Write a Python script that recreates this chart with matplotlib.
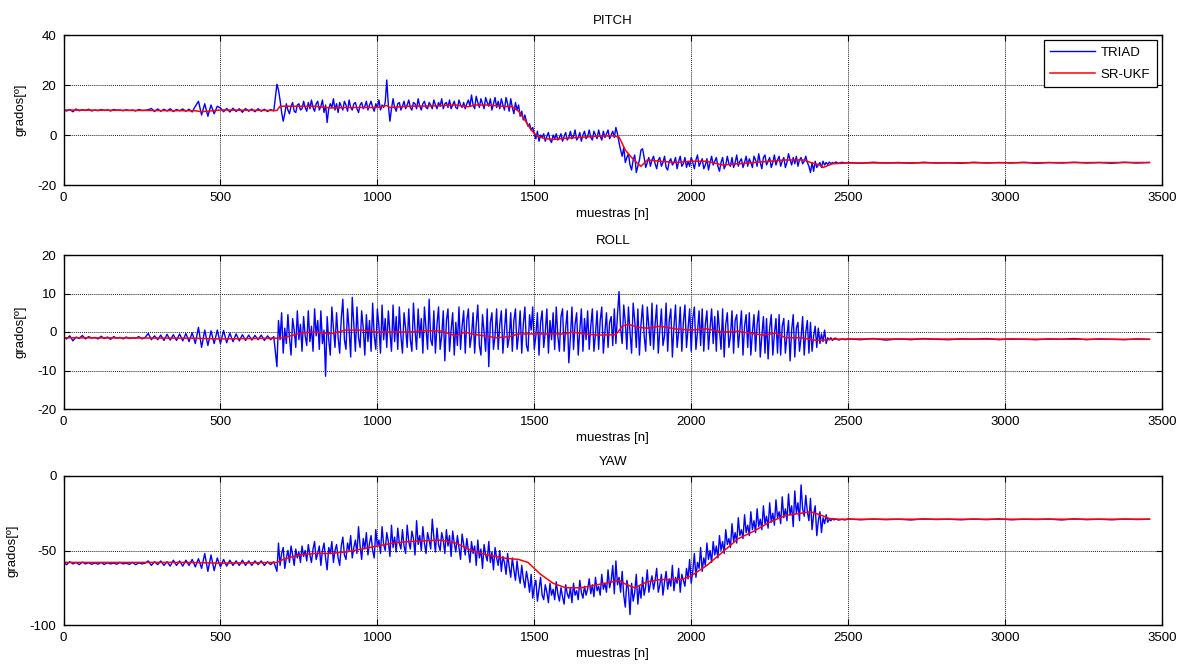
import numpy as np
import matplotlib
matplotlib.use("Agg")
import matplotlib.pyplot as plt

plt.rcParams['font.family'] = ['Liberation Sans', 'DejaVu Sans']
plt.rcParams['axes.unicode_minus'] = False

# ---------------- data ----------------
# TRIAD sample indices: 10-sample steps while quiet, 5-sample steps in the noisy part
triad_n = (list(range(0, 680, 10)) + list(range(680, 2460, 5))
           + list(range(2460, 2500, 10)) + list(range(2500, 3461, 40)))

pitch_triad = [
    # 0 - 670
    10, 9.6, 10.2, 9.3, 10.4, 9.7, 10.1, 9.8, 10.3, 9.6,
    10.0, 9.7, 10.2, 9.8, 10.1, 9.6, 10.2, 9.9, 10.0, 9.7,
    10.1, 9.8, 10.0, 9.6, 10.2, 9.8, 9.9, 10.1, 10.6, 9.4,
    10.4, 9.5, 10.3, 9.6, 10.5, 9.4, 10.2, 9.7, 10.4, 9.5,
    10.3, 9.2, 11.5, 13.5, 8.0, 12.5, 7.5, 12.0, 8.5, 11.5,
    10.8, 9.3, 10.6, 9.2, 10.7, 9.4, 10.5, 9.1, 10.6, 9.5,
    10.4, 9.3, 10.5, 9.5, 10.3, 9.4, 10.2, 9.6,
    # 680 - 2455 (step 5)
    20.3, 18.0, 14.0, 9.0, 5.5, 8.5, 12.5, 10.0, 8.5, 11.5, 13.0, 9.5, 9.0, 12.0, 12.5, 10.0, 10.5, 13.5, 11.0, 9.5,
    13.0, 10.5, 14.0, 11.0, 9.5, 12.5, 13.5, 10.0, 11.5, 14.0, 9.0, 12.0, 5.0, 10.5, 12.5, 11.0, 14.5, 10.0, 12.5, 9.0,
    13.0, 11.5, 10.0, 13.5, 12.0, 9.5, 14.0, 11.0, 10.0, 12.5, 13.0, 10.5, 9.0, 12.0, 13.0, 10.5, 11.5, 13.5, 10.0, 12.0,
    13.5, 11.0, 9.5, 12.5, 11.0, 14.0, 10.0, 12.0, 11.0, 13.0, 22.0, 12.0, 5.5, 10.5, 14.5, 11.0, 9.5, 12.5, 13.0, 10.0,
    11.5, 13.5, 10.5, 12.0, 14.0, 11.0, 10.0, 13.0, 12.5, 10.5, 14.5, 11.5, 10.0, 12.5, 13.5, 11.0, 10.5, 13.0, 12.0, 10.5,
    14.0, 12.0, 10.5, 13.0, 11.5, 14.5, 10.5, 12.5, 13.0, 11.0, 14.0, 10.5, 12.0, 13.5, 11.0, 10.5, 14.0, 12.0, 11.0, 13.0,
    10.5, 12.5, 14.0, 11.5, 16.0, 12.0, 10.5, 15.5, 13.0, 11.0, 14.5, 12.5, 10.5, 15.0, 13.0, 11.5, 14.5, 10.0, 12.5, 15.0,
    11.0, 13.5, 10.5, 14.5, 12.0, 10.0, 15.0, 12.5, 9.5, 14.5, 11.0, 8.5, 13.0, 10.0, 12.0, 7.5, 9.5, 6.0, 8.0, 5.5,
    3.5, 4.5, 2.0, 3.0, 0.5, -1.5, 1.5, -2.5, 0.0, -1.0, 0.5, -2.5, -0.5, 1.0, -2.0, -3.0, 0.0, -1.5, 0.5, -2.0,
    -1.0, 0.5, -2.5, -0.5, 1.0, -2.0, -1.0, 1.5, -1.5, -0.5, 2.0, -2.0, -1.0, 1.0, -2.5, 0.0, 1.5, -1.5, -0.5, 2.0,
    -1.0, -2.0, 1.5, 0.0, -1.5, 2.0, -0.5, -2.0, 1.5, -1.0, 0.5, 2.0, -1.5, 0.0, 1.5, -1.0, 3.0, 0.5, -3.0, -6.0,
    -8.5, -5.0, -11.0, -9.0, -7.5, -12.0, -14.0, -10.0, -8.0, -15.0, -12.5, -10.0, -6.0, -5.5, -9.0, -13.0, -11.0, -9.0, -12.5, -10.0,
    -8.5, -11.5, -13.5, -10.0, -9.0, -12.5, -11.0, -8.5, -13.0, -14.0, -10.5, -9.5, -12.0, -11.0, -9.0, -13.5, -10.5, -8.5, -12.5, -11.5,
    -9.0, -13.0, -10.5, -12.5, -9.0, -11.0, -13.5, -10.0, -8.0, -12.5, -11.0, -9.5, -13.5, -12.0, -9.5, -14.0, -11.0, -8.5, -12.0, -10.5,
    -9.0, -12.5, -14.5, -11.0, -9.0, -13.5, -12.0, -8.5, -11.5, -12.5, -9.0, -13.0, -11.0, -8.0, -12.5, -10.5, -9.5, -13.0, -11.0, -8.5,
    -12.5, -9.5, -11.0, -13.0, -8.5, -10.0, -12.5, -7.5, -11.0, -13.5, -9.0, -8.0, -12.0, -10.5, -9.0, -13.0, -11.0, -8.0, -12.0, -10.0,
    -8.5, -12.5, -10.5, -9.0, -13.0, -11.0, -7.5, -10.0, -12.0, -9.0, -11.5, -8.5, -12.5, -10.0, -9.0, -11.5, -10.5, -8.5, -11.0, -12.5,
    -15.0, -11.0, -14.5, -10.5, -13.0, -12.0, -11.0, -13.0, -10.5, -12.0, -11.0, -11.8, -10.8, -11.5, -11.0, -11.4,
    # 2460 - 2490
    -10.8, -11.3, -10.9, -11.2,
    # 2500 - 3460 (step 40)
    -11.0, -11.3, -10.9, -11.2, -11.0, -11.3, -10.9, -11.2, -11.1, -11.3,
    -10.9, -11.2, -11.0, -11.2, -10.9, -11.3, -11.0, -11.2, -10.9, -11.2,
    -11.0, -11.3, -10.9, -11.2, -11.0,
]

roll_triad = [
    # 0 - 670
    -1.2, -1.8, -1.0, -2.3, -1.3, -1.7, -0.9, -1.8, -1.2, -1.6,
    -1.4, -1.8, -1.1, -1.7, -1.3, -1.9, -1.2, -1.6, -1.4, -1.8,
    -1.3, -1.7, -1.5, -1.6, -1.2, -1.8, -1.4, -0.4, -2.0, -1.0,
    -2.0, -0.8, -2.2, -0.6, -2.1, -0.7, -2.2, -0.5, -2.3, -0.4,
    -2.5, -0.2, -3.0, 1.2, -4.0, 0.5, -3.5, 0.3, -3.0, 0.5,
    -3.0, 0.4, -2.8, -0.3, -2.5, -0.5, -2.3, -0.7, -2.2, -0.8,
    -2.1, -0.9, -2.0, -0.8, -2.2, -1.0, -2.0, -1.2,
    # 680 - 2455 (step 5)
    -9.0, 3.0, -2.0, 5.0, -5.5, 1.0, -3.0, 4.5, -1.5, -6.0, 3.5, 0.5, -4.0, 5.5, -2.0, 2.0, -5.0, 4.0, -1.0, -3.5,
    5.5, -2.5, 1.5, -5.0, 6.0, -1.0, 3.0, -4.5, 5.5, -3.0, 0.5, -11.5, 4.0, -2.0, -6.0, 6.5, 1.0, -4.0, 5.0, -1.5,
    -5.5, 3.5, 8.5, -2.0, -4.5, 6.0, 0.5, -6.5, 9.0, 2.0, -5.0, 6.5, -1.5, -4.0, 5.5, 1.0, -6.0, 4.5, -2.5, 3.0,
    -5.0, 7.5, -1.0, -4.5, 6.0, 1.5, -5.5, 7.0, -2.0, 3.5, -4.0, 5.5, 0.0, -5.0, 7.0, -2.5, 4.0, -4.5, 6.5, -1.0,
    -5.5, 5.0, 1.0, -4.0, 6.0, -2.0, -5.0, 7.5, 0.5, -4.5, 6.0, -1.5, 3.5, -5.5, 6.5, 1.0, -4.5, 8.5, -2.0, -3.5,
    5.5, -5.5, 2.0, 6.5, -4.5, -1.0, 5.5, -7.5, 3.0, 6.0, -5.0, 0.5, 5.0, -6.0, 2.5, -3.5, 6.5, -4.5, 1.5, 5.5,
    -5.5, 3.0, 6.0, -4.0, -1.0, 5.0, -5.5, 2.0, 7.0, -3.5, -6.0, 4.5, 0.0, -5.0, 6.0, -9.0, 2.5, 5.0, -4.5, -1.0,
    6.0, -4.5, 2.0, 5.5, -5.5, 0.5, 6.0, -4.0, -1.5, 5.0, -5.0, 3.0, 6.0, -4.5, -0.5, 5.5, -5.5, 2.0, 6.5, -3.5,
    -5.0, 4.5, 0.5, 6.5, -4.5, -1.0, 5.0, -6.0, 2.5, 5.5, -4.0, 0.0, 6.0, -5.5, 3.0, -2.0, 5.0, -4.5, 6.5, -1.0,
    -5.0, 4.0, 6.0, -5.0, 1.0, 5.5, -8.0, -1.5, 6.5, -4.5, 2.0, 5.0, -6.0, 0.5, 6.0, -5.0, 3.5, -2.0, 5.5, -4.5,
    1.5, 6.0, -5.0, -0.5, 5.5, -4.5, 3.0, 6.5, -5.5, 0.0, 5.0, -4.0, 2.5, 4.0, -3.5, 6.0, -3.0, 4.5, 10.5, 1.0,
    -3.0, 7.0, 2.5, -4.5, 6.5, 0.0, -5.5, 7.5, 3.0, -4.0, 6.0, -6.0, 2.0, 7.0, -1.0, -5.0, 6.5, 1.5, -3.5, 7.5,
    -4.5, 2.0, 7.0, -5.5, 0.5, 6.0, -3.5, -1.0, 7.5, -5.0, 3.0, 6.0, -6.5, 1.5, 7.0, -4.0, 0.0, 6.5, -5.0, 2.5,
    7.0, -4.0, 1.0, 6.0, -5.0, 3.5, 6.5, -4.5, 0.0, 5.5, -3.5, 6.0, -5.0, 2.0, 5.5, -4.5, 1.0, 6.0, -3.0, 4.0,
    -5.0, 5.5, 0.5, -4.5, 6.0, -6.5, 2.0, 5.0, -4.0, -1.0, 5.5, -5.5, 3.0, 4.5, -4.0, 0.5, 5.5, -6.0, 1.5, 4.5,
    -4.0, 5.0, -6.0, 0.0, 4.5, -5.0, 2.0, 5.5, -6.5, -1.0, 4.0, -5.5, 3.5, -7.0, 1.0, 4.5, -6.0, -0.5, 3.5, -5.5,
    4.5, -6.0, 1.5, 3.5, -5.5, -1.0, 3.0, -7.5, 0.5, 4.5, -6.5, 1.0, 2.5, -5.0, -1.5, 4.0, -6.0, 0.0, 3.0, -5.5,
    2.5, -5.0, -1.0, 1.5, -4.0, 1.0, -3.0, -0.5, -2.5, 0.5, -3.0, -1.5, -2.0, -1.5, -2.2, -1.7,
    # 2460 - 2490
    -1.6, -2.1, -1.8, -2.0,
    # 2500 - 3460 (step 40)
    -1.8, -2.0, -1.7, -2.1, -1.8, -2.0, -1.7, -1.9, -2.0, -1.8,
    -1.9, -1.7, -2.0, -1.8, -1.9, -2.0, -1.8, -1.9, -1.7, -2.0,
    -1.8, -1.9, -2.0, -1.8, -1.9,
]

yaw_triad = [
    # 0 - 670
    -58, -59.5, -57.5, -59, -58, -59.5, -57.8, -59, -58.2, -59.3,
    -58.3, -59.2, -58, -59.4, -58.2, -59, -58.5, -59.2, -58, -59,
    -58.5, -59.3, -58, -59.5, -58.3, -59, -58.5, -57, -60, -57.5,
    -59.5, -57, -60, -57.5, -60.5, -56.5, -60, -57, -60.5, -56.5,
    -60, -56, -61, -55.5, -62, -52, -64, -53, -63.5, -55,
    -61, -56, -60.5, -56.5, -60, -57, -60, -56.5, -60, -57,
    -60, -57, -59.5, -57, -60, -57.5, -59.5, -57.5,
    # 680 - 2455 (step 5)
    -64, -45, -60, -52, -48, -62, -55, -50, -58, -47, -53, -60, -49, -55, -51, -58, -47, -54, -50, -57,
    -46, -53, -58, -49, -44, -56, -52, -47, -60, -50, -45, -55, -63, -48, -52, -44, -58, -50, -46, -55,
    -60, -47, -41, -53, -56, -45, -50, -40, -55, -48, -43, -52, -34, -47, -56, -42, -49, -38, -53, -45,
    -40, -50, -55, -36, -47, -43, -52, -34, -46, -50, -38, -44, -54, -33, -48, -41, -51, -35, -45, -49,
    -36, -47, -52, -33, -44, -49, -37, -42, -53, -30, -46, -40, -50, -34, -45, -52, -38, -43, -49, -29,
    -41, -51, -35, -46, -50, -38, -43, -52, -36, -47, -40, -54, -37, -45, -51, -40, -48, -56, -39, -46,
    -53, -42, -50, -58, -44, -52, -47, -60, -43, -55, -49, -62, -46, -53, -57, -44, -58, -51, -63, -48,
    -55, -60, -50, -64, -54, -58, -66, -52, -61, -68, -55, -63, -70, -57, -66, -72, -60, -69, -75, -64,
    -70, -78, -66, -82, -74, -70, -84, -76, -68, -80, -83, -73, -78, -85, -72, -80, -76, -83, -71, -79,
    -84, -75, -81, -86, -73, -79, -82, -75, -85, -72, -80, -77, -83, -70, -78, -82, -74, -80, -76, -69,
    -79, -73, -81, -68, -77, -74, -80, -66, -76, -72, -78, -63, -75, -70, -60, -79, -57, -73, -68, -78,
    -64, -80, -88, -70, -76, -93, -72, -84, -78, -66, -86, -74, -82, -68, -80, -74, -63, -78, -72, -67,
    -76, -70, -62, -78, -73, -66, -80, -71, -64, -76, -69, -74, -60, -77, -68, -72, -62, -78, -66, -70,
    -74, -62, -69, -56, -72, -64, -52, -68, -58, -62, -48, -64, -55, -60, -45, -56, -50, -58, -44, -53,
    -47, -55, -40, -50, -44, -52, -36, -46, -42, -48, -32, -44, -38, -45, -28, -40, -36, -42, -26, -38,
    -33, -40, -24, -36, -30, -38, -22, -34, -29, -36, -20, -32, -27, -35, -18, -31, -25, -33, -16, -28,
    -24, -32, -14, -28, -22, -30, -12, -26, -20, -34, -10, -25, -18, -30, -6, -22, -27, -13, -24, -30,
    -15, -36, -26, -20, -40, -30, -24, -38, -28, -32, -26, -31, -29, -30.0, -28.5, -29.5,
    # 2460 - 2490
    -28.9, -29.6, -29.1, -29.5,
    # 2500 - 3460 (step 40)
    -28.8, -29.4, -28.9, -29.3, -29.0, -29.5, -28.8, -29.2, -29.0, -29.4,
    -28.9, -29.3, -28.8, -29.4, -29.0, -29.2, -28.9, -29.5, -28.8, -29.3,
    -29.0, -29.4, -28.9, -29.2, -29.0,
]

# SR-UKF estimate (smooth), given at key sample indices
pitch_ukf_n = [0, 420, 440, 500, 680, 690, 750, 800, 850, 900, 1000, 1030, 1040,
               1100, 1200, 1250, 1290, 1310, 1350, 1400, 1430, 1450, 1470, 1490,
               1510, 1530, 1560, 1600, 1700, 1750, 1770, 1790, 1810, 1830, 1840,
               1860, 1900, 1950, 2000, 2050, 2100, 2150, 2200, 2250, 2300, 2360,
               2380, 2410, 2420, 2450, 2500, 3460]
pitch_ukf = [10, 9.7, 9.3, 10, 9.8, 11.5, 11.5, 11.5, 10.8, 11, 11, 11.8, 11,
             11.5, 11.7, 12, 11.3, 12, 12, 11.5, 11.3, 9.5, 6, 2,
             -0.5, -1.3, -1.8, -1.3, -0.5, -0.3, -0.8, -6, -9, -11.5, -12.5,
             -10, -10.5, -11, -10.5, -10.5, -12, -11.5, -11, -10.5, -10, -10,
             -11, -12, -13, -11.5, -11.2, -11]

roll_ukf_n = [0, 400, 500, 680, 700, 760, 800, 850, 900, 950, 1000, 1100, 1150,
              1200, 1250, 1280, 1300, 1380, 1420, 1450, 1600, 1620, 1660, 1700,
              1760, 1780, 1800, 1830, 1860, 1900, 1950, 2000, 2050, 2100, 2150,
              2200, 2230, 2270, 2300, 2350, 2400, 2450, 2500, 3460]
roll_ukf = [-1.5, -1.6, -1.8, -1.6, -1.5, -0.2, 0, -0.5, 0.5, 0.5, 0, 0, 0.3,
            0.3, -1, 0, -0.5, -1.5, -1.2, -0.5, -0.5, 0, -0.5, -0.8,
            -0.7, 1.5, 2.0, 1.2, 1.0, 1.5, 0.8, 0.5, 0.8, 0.0, 0.2,
            -0.5, -0.8, -0.3, -1.5, -1.5, -2.2, -1.9, -1.8, -1.9]

yaw_ukf_n = [0, 400, 500, 680, 700, 750, 800, 850, 900, 950, 1000, 1050, 1100,
             1150, 1200, 1250, 1280, 1300, 1350, 1400, 1450, 1480, 1520, 1560,
             1600, 1650, 1700, 1750, 1770, 1790, 1820, 1860, 1900, 1970, 2000,
             2050, 2100, 2150, 2200, 2250, 2300, 2350, 2380, 2410, 2440, 2470,
             2500, 3460]
yaw_ukf = [-58, -58, -58.5, -58, -56, -53, -52, -52, -51, -49, -47, -45, -44,
           -43.5, -43, -45, -48, -50, -53, -55, -56, -58, -66, -72,
           -75, -75, -73, -71, -70, -72.5, -75, -71, -69.5, -69.5, -67,
           -60, -51, -42, -37, -31, -26.5, -25, -24, -26, -28.5, -29,
           -29, -29]

panels = [
    ("PITCH", pitch_triad, pitch_ukf_n, pitch_ukf, (-20, 40), [-20, 0, 20, 40]),
    ("ROLL", roll_triad, roll_ukf_n, roll_ukf, (-20, 20), [-20, -10, 0, 10, 20]),
    ("YAW", yaw_triad, yaw_ukf_n, yaw_ukf, (-100, 0), [-100, -50, 0]),
]

# ---------------- figure ----------------
W, H = 1185, 664
fig = plt.figure(figsize=(W / 100, H / 100), dpi=100)

left_px, right_px = 63.5, 1162
rows_px = [(35, 185), (255, 409), (476, 625)]

for (title, triad, un, ukf, ylim, yticks), (top, bot) in zip(panels, rows_px):
    ax = fig.add_axes([left_px / W, 1 - bot / H, (right_px - left_px) / W, (bot - top) / H])
    m = min(len(triad_n), len(triad))
    ax.plot(triad_n[:m], triad[:m], color='#0000ff', lw=1.0, label='TRIAD')
    ax.plot(un, ukf, color='#ff0000', lw=1.1, label='SR-UKF')
    ax.set_xlim(0, 3500)
    ax.set_ylim(*ylim)
    ax.set_yticks(yticks)
    ax.set_xticks([0, 500, 1000, 1500, 2000, 2500, 3000, 3500])
    ax.grid(True, color='#222222', linestyle=(0, (1, 1)), lw=0.7)
    ax.tick_params(direction='in', length=4, top=True, right=True, labelsize=9.5,
                   width=0.8, colors='black', pad=5)
    for s in ax.spines.values():
        s.set_linewidth(1.0)
        s.set_color('black')
    ax.set_title(title, fontsize=9.5, pad=8)
    ax.set_xlabel('muestras [n]', fontsize=9.5, labelpad=3)
    ax.set_ylabel('grados[º]', fontsize=9.5, labelpad=8)
    if title == "PITCH":
        leg = ax.legend(loc='upper right', fontsize=9.5, fancybox=False, framealpha=1,
                        edgecolor='black', borderaxespad=0.4, handlelength=3.4,
                        handletextpad=0.4, borderpad=0.5, labelspacing=0.7)
        leg.get_frame().set_linewidth(0.9)

fig.savefig('out.png', dpi=100)
